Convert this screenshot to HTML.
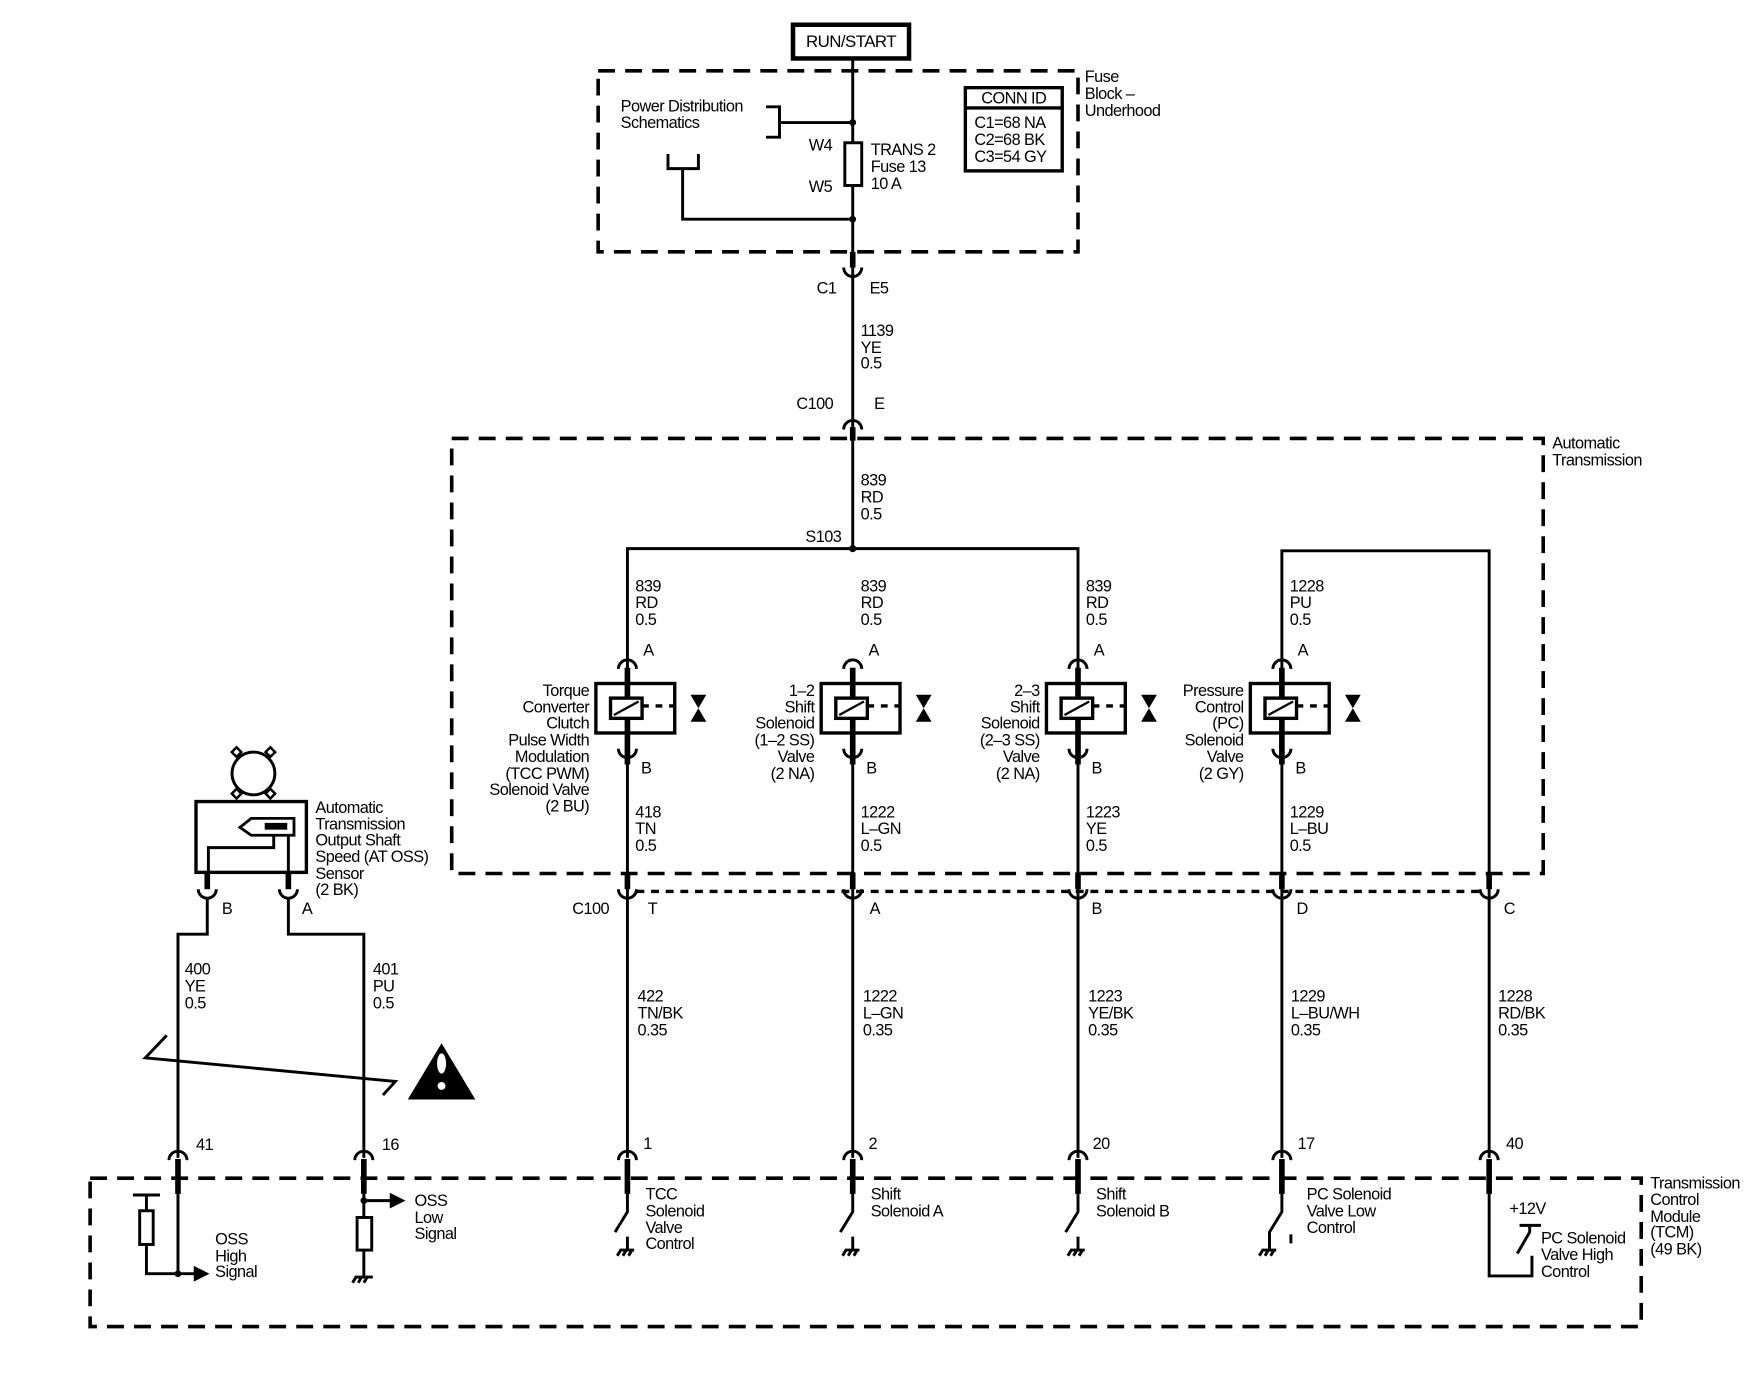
<!DOCTYPE html>
<html><head><meta charset="utf-8"><style>
html,body{margin:0;padding:0;background:#fff;}
svg{display:block;}
text{font-family:"Liberation Sans",sans-serif;font-size:14.5px;fill:#000;letter-spacing:-0.5px;}
.r{text-anchor:end;}
.w{stroke:#000;stroke-width:2.6;fill:none;}
.t{stroke:#000;stroke-width:5;fill:none;}
.d{stroke:#000;stroke-width:3.2;fill:none;stroke-dasharray:15 9;}
.dot{stroke:#000;stroke-width:3;fill:none;stroke-dasharray:7 6;}
</style></head><body>
<svg width="1764" height="1376" viewBox="0 0 1566 1224" preserveAspectRatio="none" xmlns="http://www.w3.org/2000/svg">
<!-- RUN/START -->
<rect x="704" y="22" width="103" height="30" fill="none" stroke="#000" stroke-width="4"/>
<text x="755.5" y="42" text-anchor="middle" style="font-size:15px">RUN/START</text>
<!-- fuse block -->
<rect x="531" y="63" width="426" height="161" class="d"/>
<text x="963" y="73">Fuse</text><text x="963" y="88">Block –</text><text x="963" y="103">Underhood</text>
<rect x="857" y="78" width="86" height="74" fill="none" stroke="#000" stroke-width="3"/>
<line x1="857" y1="96" x2="943" y2="96" stroke="#000" stroke-width="3"/>
<text x="900" y="92" text-anchor="middle">CONN ID</text>
<text x="865" y="114">C1=68 NA</text><text x="865" y="129">C2=68 BK</text><text x="865" y="144">C3=54 GY</text>
<text x="551" y="99">Power Distribution</text><text x="551" y="114">Schematics</text>
<path class="w" d="M680 95 H692 V122 H680 M692 109 H757"/>
<circle cx="757" cy="109" r="3"/>
<path class="w" d="M593 137 V150 H620 V137 M606 150 V195 H757"/>
<circle cx="757" cy="195" r="3"/>
<line class="w" x1="757" y1="52" x2="757" y2="488"/>
<rect x="750" y="127" width="15" height="38" fill="#fff" stroke="#000" stroke-width="2.6"/>
<text x="718" y="134">W4</text><text x="718" y="171">W5</text>
<text x="773" y="138">TRANS 2</text><text x="773" y="153">Fuse 13</text><text x="773" y="168">10 A</text>
<!-- C1 -->
<line class="t" x1="757" y1="224" x2="757" y2="238"/>
<path class="w" d="M749 238 A8 8 0 0 0 765 238"/>
<text x="725" y="261">C1</text><text x="772" y="261">E5</text>
<text x="764" y="299">1139</text><text x="764" y="314">YE</text><text x="764" y="328">0.5</text>
<!-- C100 E -->
<path class="w" d="M749 382 A8 8 0 0 1 765 382" fill="#fff"/>
<line class="t" x1="757" y1="380" x2="757" y2="392"/>
<text x="707" y="364">C100</text><text x="776" y="364">E</text>
<!-- trans box -->
<rect x="401" y="390" width="969" height="387" class="d"/>
<text x="1378" y="399">Automatic</text><text x="1378" y="414">Transmission</text>
<text x="764" y="432">839</text><text x="764" y="447">RD</text><text x="764" y="462">0.5</text>
<text x="715" y="482">S103</text>
<circle cx="757" cy="488" r="3.2"/>
<path class="w" d="M557 598 V488 H957 V598"/>
<path class="w" d="M1138 598 V490 H1322 V1030"/>
<text x="564" y="526">839</text><text x="564" y="541">RD</text><text x="564" y="556">0.5</text>
<text x="764" y="526">839</text><text x="764" y="541">RD</text><text x="764" y="556">0.5</text>
<text x="964" y="526">839</text><text x="964" y="541">RD</text><text x="964" y="556">0.5</text>
<text x="1145" y="526">1228</text><text x="1145" y="541">PU</text><text x="1145" y="556">0.5</text>

<g>
<path class="w" d="M549 595 A8 8 0 0 1 565 595"/><line class="t" x1="557" y1="594" x2="557" y2="680"/>
<path class="w" d="M549 666 A8 8 0 0 0 565 666"/>
<rect x="529" y="608" width="70" height="44" fill="none" stroke="#000" stroke-width="3"/>
<rect x="542" y="621" width="28" height="18" fill="#fff" stroke="#000" stroke-width="3"/>
<line x1="545" y1="636" x2="567" y2="624" stroke="#000" stroke-width="2"/>
<line x1="570" y1="628" x2="599" y2="628" stroke="#000" stroke-width="3" stroke-dasharray="6 6"/>
<path d="M613 618 H627 L613 642 H627 Z" fill="#000"/>
</g>
<g transform="translate(200,0)">
<path class="w" d="M549 595 A8 8 0 0 1 565 595"/><line class="t" x1="557" y1="594" x2="557" y2="680"/>
<path class="w" d="M549 666 A8 8 0 0 0 565 666"/>
<rect x="529" y="608" width="70" height="44" fill="none" stroke="#000" stroke-width="3"/>
<rect x="542" y="621" width="28" height="18" fill="#fff" stroke="#000" stroke-width="3"/>
<line x1="545" y1="636" x2="567" y2="624" stroke="#000" stroke-width="2"/>
<line x1="570" y1="628" x2="599" y2="628" stroke="#000" stroke-width="3" stroke-dasharray="6 6"/>
<path d="M613 618 H627 L613 642 H627 Z" fill="#000"/>
</g>
<g transform="translate(400,0)">
<path class="w" d="M549 595 A8 8 0 0 1 565 595"/><line class="t" x1="557" y1="594" x2="557" y2="680"/>
<path class="w" d="M549 666 A8 8 0 0 0 565 666"/>
<rect x="529" y="608" width="70" height="44" fill="none" stroke="#000" stroke-width="3"/>
<rect x="542" y="621" width="28" height="18" fill="#fff" stroke="#000" stroke-width="3"/>
<line x1="545" y1="636" x2="567" y2="624" stroke="#000" stroke-width="2"/>
<line x1="570" y1="628" x2="599" y2="628" stroke="#000" stroke-width="3" stroke-dasharray="6 6"/>
<path d="M613 618 H627 L613 642 H627 Z" fill="#000"/>
</g>
<g transform="translate(581,0)">
<path class="w" d="M549 595 A8 8 0 0 1 565 595"/><line class="t" x1="557" y1="594" x2="557" y2="680"/>
<path class="w" d="M549 666 A8 8 0 0 0 565 666"/>
<rect x="529" y="608" width="70" height="44" fill="none" stroke="#000" stroke-width="3"/>
<rect x="542" y="621" width="28" height="18" fill="#fff" stroke="#000" stroke-width="3"/>
<line x1="545" y1="636" x2="567" y2="624" stroke="#000" stroke-width="2"/>
<line x1="570" y1="628" x2="599" y2="628" stroke="#000" stroke-width="3" stroke-dasharray="6 6"/>
<path d="M613 618 H627 L613 642 H627 Z" fill="#000"/>
</g>
<text x="571" y="583">A</text><text x="771" y="583">A</text><text x="971" y="583">A</text><text x="1152" y="583">A</text>
<text x="569" y="688">B</text><text x="769" y="688">B</text><text x="969" y="688">B</text><text x="1150" y="688">B</text>
<text class="r" x="523" y="619">Torque</text><text class="r" x="523" y="634">Converter</text><text class="r" x="523" y="648">Clutch</text><text class="r" x="523" y="663">Pulse Width</text><text class="r" x="523" y="678">Modulation</text><text class="r" x="523" y="693">(TCC PWM)</text><text class="r" x="523" y="707">Solenoid Valve</text><text class="r" x="523" y="722">(2 BU)</text>
<text class="r" x="723" y="619">1–2</text><text class="r" x="723" y="634">Shift</text><text class="r" x="723" y="648">Solenoid</text><text class="r" x="723" y="663">(1–2 SS)</text><text class="r" x="723" y="678">Valve</text><text class="r" x="723" y="693">(2 NA)</text>
<text class="r" x="923" y="619">2–3</text><text class="r" x="923" y="634">Shift</text><text class="r" x="923" y="648">Solenoid</text><text class="r" x="923" y="663">(2–3 SS)</text><text class="r" x="923" y="678">Valve</text><text class="r" x="923" y="693">(2 NA)</text>
<text class="r" x="1104" y="619">Pressure</text><text class="r" x="1104" y="634">Control</text><text class="r" x="1104" y="648">(PC)</text><text class="r" x="1104" y="663">Solenoid</text><text class="r" x="1104" y="678">Valve</text><text class="r" x="1104" y="693">(2 GY)</text>
<line class="w" x1="557" y1="670" x2="557" y2="1030"/>
<line class="w" x1="757" y1="670" x2="757" y2="1030"/>
<line class="w" x1="957" y1="670" x2="957" y2="1030"/>
<line class="w" x1="1138" y1="670" x2="1138" y2="1030"/>
<text x="564" y="727">418</text><text x="564" y="742">TN</text><text x="564" y="757">0.5</text>
<text x="764" y="727">1222</text><text x="764" y="742">L–GN</text><text x="764" y="757">0.5</text>
<text x="964" y="727">1223</text><text x="964" y="742">YE</text><text x="964" y="757">0.5</text>
<text x="1145" y="727">1229</text><text x="1145" y="742">L–BU</text><text x="1145" y="757">0.5</text>
<line class="dot" x1="565" y1="793" x2="1315" y2="793"/>
<g>
<line class="t" x1="557" y1="776" x2="557" y2="791"/><path class="w" d="M549 791 A8 8 0 0 0 565 791"/>
<line class="t" x1="757" y1="776" x2="757" y2="791"/><path class="w" d="M749 791 A8 8 0 0 0 765 791"/>
<line class="t" x1="957" y1="776" x2="957" y2="791"/><path class="w" d="M949 791 A8 8 0 0 0 965 791"/>
<line class="t" x1="1138" y1="776" x2="1138" y2="791"/><path class="w" d="M1130 791 A8 8 0 0 0 1146 791"/>
<line class="t" x1="1322" y1="776" x2="1322" y2="791"/><path class="w" d="M1314 791 A8 8 0 0 0 1330 791"/>
</g>
<text x="508" y="813">C100</text><text x="575" y="813">T</text><text x="772" y="813">A</text><text x="969" y="813">B</text><text x="1151" y="813">D</text><text x="1335" y="813">C</text>
<text x="566" y="891">422</text><text x="566" y="906">TN/BK</text><text x="566" y="921">0.35</text>
<text x="766" y="891">1222</text><text x="766" y="906">L–GN</text><text x="766" y="921">0.35</text>
<text x="966" y="891">1223</text><text x="966" y="906">YE/BK</text><text x="966" y="921">0.35</text>
<text x="1146" y="891">1229</text><text x="1146" y="906">L–BU/WH</text><text x="1146" y="921">0.35</text>
<text x="1330" y="891">1228</text><text x="1330" y="906">RD/BK</text><text x="1330" y="921">0.35</text>
<!-- OSS sensor -->
<circle cx="225" cy="688" r="19" class="w"/>
<g fill="#fff" stroke="#000" stroke-width="2.2">
<rect x="207" y="666" width="6" height="6" transform="rotate(45 210 669)"/>
<rect x="237" y="666" width="6" height="6" transform="rotate(45 240 669)"/>
<rect x="207" y="703" width="6" height="6" transform="rotate(45 210 706)"/>
<rect x="237" y="703" width="6" height="6" transform="rotate(45 240 706)"/>
</g>
<rect x="174" y="713" width="98" height="63" fill="none" stroke="#000" stroke-width="3"/>
<path d="M213 736 L223 728 H261 V743 H223 Z" fill="none" stroke="#000" stroke-width="2.5"/>
<rect x="235" y="732" width="20" height="6" fill="#000"/>
<path class="w" d="M256 743 V776 M243 743 V754 H185 V776"/>
<text x="280" y="723">Automatic</text><text x="280" y="738">Transmission</text><text x="280" y="752">Output Shaft</text><text x="280" y="767">Speed (AT OSS)</text><text x="280" y="782">Sensor</text><text x="280" y="796">(2 BK)</text>
<line class="t" x1="184" y1="776" x2="184" y2="791"/><path class="w" d="M176 791 A8 8 0 0 0 192 791"/>
<line class="t" x1="256" y1="776" x2="256" y2="791"/><path class="w" d="M248 791 A8 8 0 0 0 264 791"/>
<text x="197" y="813">B</text><text x="268" y="813">A</text>
<path class="w" d="M184 798 V831 H158 V1030 M256 798 V831 H323 V1030"/>
<text x="164" y="867">400</text><text x="164" y="882">YE</text><text x="164" y="897">0.5</text>
<text x="331" y="867">401</text><text x="331" y="882">PU</text><text x="331" y="897">0.5</text>
<path class="w" d="M148 921 L129 941 L351 962 L340 974"/>
<path d="M392 928 L422 978 H362 Z" fill="#000"/>
<ellipse cx="392" cy="946" rx="4" ry="9" fill="#fff"/><circle cx="392" cy="966" r="3.5" fill="#fff"/>
<g>
<path class="w" d="M150 1032 A8 8 0 0 1 166 1032"/><line class="t" x1="158" y1="1031" x2="158" y2="1062"/>
<path class="w" d="M315 1032 A8 8 0 0 1 331 1032"/><line class="t" x1="323" y1="1031" x2="323" y2="1062"/>
<path class="w" d="M549 1032 A8 8 0 0 1 565 1032"/><line class="t" x1="557" y1="1031" x2="557" y2="1062"/>
<path class="w" d="M749 1032 A8 8 0 0 1 765 1032"/><line class="t" x1="757" y1="1031" x2="757" y2="1062"/>
<path class="w" d="M949 1032 A8 8 0 0 1 965 1032"/><line class="t" x1="957" y1="1031" x2="957" y2="1062"/>
<path class="w" d="M1130 1032 A8 8 0 0 1 1146 1032"/><line class="t" x1="1138" y1="1031" x2="1138" y2="1062"/>
<path class="w" d="M1314 1032 A8 8 0 0 1 1330 1032"/><line class="t" x1="1322" y1="1031" x2="1322" y2="1062"/>
</g>
<text x="174" y="1023">41</text><text x="339" y="1023">16</text><text x="571" y="1022">1</text><text x="771" y="1022">2</text><text x="970" y="1022">20</text><text x="1152" y="1022">17</text><text x="1337" y="1022">40</text>
<!-- TCM box -->
<rect x="80" y="1048" width="1377" height="132" class="d"/>
<text x="1465" y="1057">Transmission</text><text x="1465" y="1072">Control</text><text x="1465" y="1087">Module</text><text x="1465" y="1101">(TCM)</text><text x="1465" y="1116">(49 BK)</text>
<path class="w" d="M158 1060 V1133 M118 1063 H142 M130 1063 V1133 H174"/>
<rect x="124" y="1077" width="12" height="30" fill="#fff" stroke="#000" stroke-width="2.6"/>
<circle cx="158" cy="1133" r="3"/>
<path d="M172 1126 L186 1133 L172 1140 Z" fill="#000"/>
<text x="191" y="1107">OSS</text><text x="191" y="1122">High</text><text x="191" y="1136">Signal</text>
<path class="w" d="M323 1060 V1135 M323 1068 H348"/>
<circle cx="323" cy="1068" r="3"/>
<path d="M346 1061 L360 1068 L346 1075 Z" fill="#000"/>
<rect x="317" y="1083" width="13" height="29" fill="#fff" stroke="#000" stroke-width="2.6"/>
<path class="w" d="M315 1136 H331 M316 1136 L313 1141 M321 1136 L318 1141 M326 1136 L323 1141"/>
<text x="368" y="1073">OSS</text><text x="368" y="1088">Low</text><text x="368" y="1102">Signal</text>
<path class="w" d="M557 1060 V1078 L546 1096 M557 1100 V1112 M550 1112 H563 M551 1112 L548 1117 M556 1112 L553 1117 M561 1112 L558 1117"/>
<path class="w" d="M757 1060 V1078 L746 1096 M757 1100 V1112 M750 1112 H763 M751 1112 L748 1117 M756 1112 L753 1117 M761 1112 L758 1117"/>
<path class="w" d="M957 1060 V1078 L946 1096 M957 1100 V1112 M950 1112 H963 M951 1112 L948 1117 M956 1112 L953 1117 M961 1112 L958 1117"/>
<path class="w" d="M1138 1060 V1078 L1127 1096 V1112 M1120 1112 H1133 M1121 1112 L1118 1117 M1126 1112 L1123 1117 M1131 1112 L1128 1117 M1146 1098 V1106"/>
<text x="573" y="1067">TCC</text><text x="573" y="1082">Solenoid</text><text x="573" y="1097">Valve</text><text x="573" y="1111">Control</text>
<text x="773" y="1067">Shift</text><text x="773" y="1082">Solenoid A</text>
<text x="973" y="1067">Shift</text><text x="973" y="1082">Solenoid B</text>
<text x="1160" y="1067">PC Solenoid</text><text x="1160" y="1082">Valve Low</text><text x="1160" y="1097">Control</text>
<path class="w" d="M1322 1060 V1135 H1360 V1117 M1349 1090 H1368 M1358 1090 V1096 L1347 1115"/>
<text x="1340" y="1080">+12V</text>
<text x="1368" y="1106">PC Solenoid</text><text x="1368" y="1121">Valve High</text><text x="1368" y="1136">Control</text>
</svg>
</body></html>
